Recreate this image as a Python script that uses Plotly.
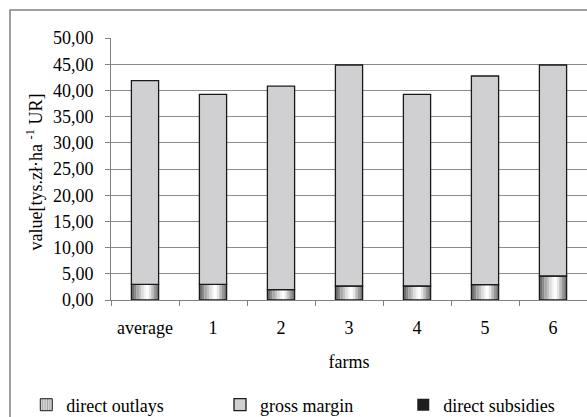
import plotly.graph_objects as go

# Values in thousand PLN per ha of agricultural land
farms = ["average", "1", "2", "3", "4", "5", "6"]
direct_outlays = [3.00, 3.00, 1.97, 2.67, 2.67, 2.92, 4.58]
gross_margin = [38.85, 36.25, 38.83, 42.18, 36.58, 39.83, 40.27]
direct_subsidies = [0, 0, 0, 0, 0, 0, 0]

FONT = "'Liberation Serif', 'Times New Roman', Times, serif"
FS = 18
BAR_W = 0.4

# Horizontal shading across the outlays bars (left edge -> right edge)
shade = ["#6f6f6f", "#8a8a8a", "#a6a6a6", "#c2c2c2", "#dcdcdc",
         "#f2f2f2", "#ffffff", "#e6e6e6", "#bdbdbd", "#969696", "#787878"]

fig = go.Figure()

n = len(shade)
slice_w = BAR_W / n
for i, col in enumerate(shade):
    fig.add_trace(go.Bar(
        x=farms, y=direct_outlays, base=0,
        width=slice_w * 1.05, offset=-BAR_W / 2 + i * slice_w,
        marker=dict(color=col, line=dict(width=0)),
        showlegend=False, hoverinfo="skip",
    ))

# Outline of the outlays bars
fig.add_trace(go.Bar(
    x=farms, y=direct_outlays, base=0, width=BAR_W, offset=-BAR_W / 2,
    marker=dict(color="rgba(0,0,0,0)", line=dict(color="#1a1a1a", width=1.3)),
    showlegend=False, hoverinfo="skip",
))
# Legend entry for the outlays
fig.add_trace(go.Bar(
    x=[None], y=[None], name="direct outlays", legend="legend",
    marker=dict(color="#e0e0e0", line=dict(color="#1a1a1a", width=1),
                pattern=dict(shape="|", fgcolor="#6a6a6a", bgcolor="#e0e0e0",
                             size=3, solidity=0.5)),
))

fig.add_trace(go.Bar(
    x=farms, y=gross_margin, base=direct_outlays, width=BAR_W, offset=-BAR_W / 2,
    name="gross margin", legend="legend2",
    marker=dict(color="#d0d0d2", line=dict(color="#1a1a1a", width=1.3)),
))

fig.add_trace(go.Bar(
    x=farms, y=direct_subsidies, width=BAR_W, offset=-BAR_W / 2,
    name="direct subsidies", legend="legend3",
    marker=dict(color="#1e1e1e", line=dict(width=0)),
))

# Outer chart border
fig.add_shape(type="rect", xref="paper", yref="paper",
              x0=-0.2122, x1=1.2, y0=-1.0, y1=1.1069,
              line=dict(color="#808080", width=1.5), fillcolor="rgba(0,0,0,0)",
              layer="below")

# Y axis title
fig.add_annotation(text="value[tys.zł·ha <sup>-1</sup> UR]", xref="paper", yref="paper",
                   x=-0.16, y=0.49, xanchor="center", yanchor="middle",
                   textangle=-90, showarrow=False,
                   font=dict(family=FONT, size=FS, color="black"))

legend_common = dict(orientation="h", xanchor="left", y=-0.4008, yanchor="middle",
                     font=dict(family=FONT, size=FS), bgcolor="rgba(0,0,0,0)",
                     itemclick=False)

fig.update_layout(
    width=587, height=417,
    margin=dict(l=111, r=0, t=38, b=117, autoexpand=False),
    paper_bgcolor="white", plot_bgcolor="white",
    barmode="overlay",
    separators=", ",
    font=dict(family=FONT, size=FS, color="black"),
    legend=dict(x=-0.178, **legend_common),
    legend2=dict(x=0.229, **legend_common),
    legend3=dict(x=0.614, **legend_common),
    xaxis=dict(
        range=[-0.5, 6.5], tickson="boundaries", ticks="outside", ticklen=5,
        tickcolor="#808080", showline=True, linecolor="#808080", linewidth=1,
        tickfont=dict(family=FONT, size=FS), ticklabelstandoff=11,
        title=dict(text="farms", font=dict(family=FONT, size=FS), standoff=18),
        showgrid=False,
    ),
    yaxis=dict(
        range=[0, 50], dtick=5, tickformat=".2f", ticks="outside", ticklen=5,
        tickcolor="#808080", showline=True, linecolor="#808080", linewidth=1,
        showgrid=True, gridcolor="#8c8c8c", gridwidth=1, zeroline=False,
        tickfont=dict(family=FONT, size=FS), ticklabelstandoff=8,
    ),
)

fig.write_html("out.html")
